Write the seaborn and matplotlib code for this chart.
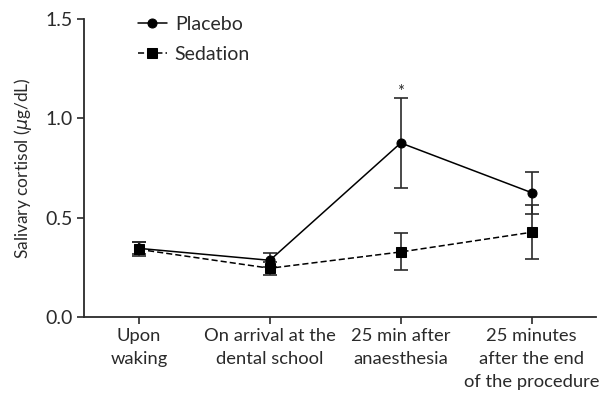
import numpy as np
import pandas as pd
import matplotlib
matplotlib.use("Agg")
import matplotlib.pyplot as plt
import seaborn as sns

# data
times = ["Upon\nwaking", "On arrival at the\ndental school",
         "25 min after\nanaesthesia", "25 minutes\nafter the end\nof the procedure"]
placebo_mean = [0.345, 0.285, 0.875, 0.625]
placebo_err = [0.03, 0.035, 0.225, 0.105]
sedation_mean = [0.340, 0.245, 0.327, 0.426]
sedation_err = [0.035, 0.033, 0.093, 0.136]
groups = ["Placebo", "Sedation"]

sns.set_style("ticks")
plt.rcParams['font.family'] = ['Lato', 'DejaVu Sans']

df = pd.DataFrame({
    "pos": list(range(4)) * 2,
    "value": placebo_mean + sedation_mean,
    "group": [groups[0]] * 4 + [groups[1]] * 4,
})

fig = plt.figure(figsize=(6, 4.01), dpi=100)
ax = fig.add_axes([0.14, 0.2095, 0.853, 0.744])

ink = "#2a2a2a"
for means, errs in [(placebo_mean, placebo_err), (sedation_mean, sedation_err)]:
    ax.errorbar(range(4), means, yerr=errs, fmt="none", ecolor=ink,
                elinewidth=1.2, capsize=5, capthick=1.2, zorder=2)

sns.lineplot(data=df, x="pos", y="value", style="group",
             markers={"Placebo": "o", "Sedation": "s"},
             dashes={"Placebo": "", "Sedation": (4, 2)},
             color="black", markersize=6.5, markeredgecolor="black",
             linewidth=1.1, ax=ax, zorder=3)

ax.text(2, 1.13, "*", ha="center", va="center", fontsize=12, color=ink)

ax.set_xlim(-0.42, 3.49)
ax.set_ylim(0, 1.5)
ax.set_yticks([0.0, 0.5, 1.0, 1.5])
ax.set_yticklabels(["0.0", "0.5", "1.0", "1.5"])
ax.set_xticks(range(4))
ax.set_xticklabels(times, fontsize=13.2, color=ink, linespacing=1.55)
ax.tick_params(axis="y", labelsize=14, colors=ink, length=5, width=1.2, pad=3)
ax.tick_params(axis="x", length=5, width=1.2, colors=ink, pad=3)
ax.set_xlabel("")
ax.set_ylabel(r"Salivary cortisol ($\mu$g/dL)", fontsize=12.5, color=ink, labelpad=8)
for s in ["left", "bottom"]:
    ax.spines[s].set_linewidth(1.3)
    ax.spines[s].set_color(ink)
sns.despine(ax=ax)

leg = ax.legend(loc="upper left", bbox_to_anchor=(0.09, 1.035), frameon=False,
                fontsize=14, handlelength=1.5, handletextpad=0.4,
                labelspacing=0.65, borderaxespad=0)
for t in leg.get_texts():
    t.set_color(ink)

fig.savefig("out.png", dpi=100)
